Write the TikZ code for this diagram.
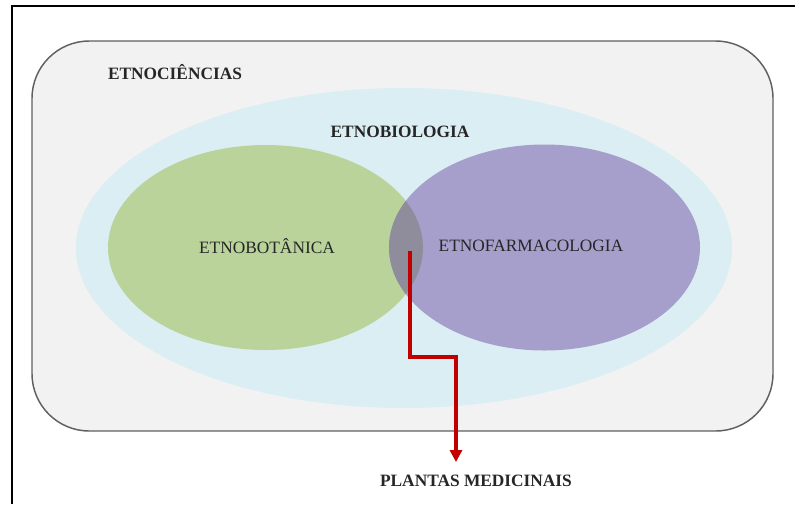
\documentclass[tikz,border=0pt]{standalone}
\usepackage{fontspec}
\setmainfont{Liberation Serif}
\usetikzlibrary{arrows.meta}
\definecolor{ciencgray}{HTML}{F2F2F2}
\definecolor{biolblue}{HTML}{DAEEF3}
\definecolor{botgreen}{HTML}{B9D39B}
\definecolor{farmpurple}{HTML}{A79FCB}
\definecolor{overgray}{HTML}{8F8D9B}
\definecolor{arrowred}{HTML}{C00000}
\tikzset{
    txt/.style={font=\fontsize{13}{15}\selectfont,text=black!85,inner sep=1pt},
    redpath/.style={arrowred,line width=2.3pt,-{Triangle[length=9pt,width=9pt]}}
}
\begin{document}
\begin{tikzpicture}[x=0.75pt,y=-0.75pt]
        \useasboundingbox (0,0) rectangle (795,504);
        \draw[line width=2pt] (12,504) -- (12,6) -- (795,6);
        \draw[fill=ciencgray,draw=gray!75!black,line width=1.1pt,rounded corners=43pt] (32,41) rectangle (773,431);
        \fill[biolblue] (404,248) ellipse [x radius=328,y radius=160];
        \fill[botgreen] (265.5,247.5) ellipse [x radius=157.5,y radius=102.5];
        \fill[farmpurple] (544.5,247.5) ellipse [x radius=155.5,y radius=103];
        \begin{scope}
            \clip (265.5,247.5) ellipse [x radius=157.5,y radius=102.5];
            \fill[overgray] (544.5,247.5) ellipse [x radius=155.5,y radius=103];
        \end{scope}
        \node[txt] (ciencias) at (175,72){\textbf{ETNOCIÊNCIAS}};
        \node[txt] (biologia) at (400,132){\textbf{ETNOBIOLOGIA}};
        \node[txt] (botanica) at (267,246){ETNOBOTÂNICA};
        \node[txt] (farmaco) at (531,246){ETNOFARMACOLOGIA};
        \node[txt] (plantas) at (476,481){\textbf{PLANTAS MEDICINAIS}};
        \coordinate (inter) at (410,251);
        \coordinate (knee) at (456,357);
        \coordinate (tip) at (456,462);
        \draw[redpath] (inter) |- (knee) -- (tip);
    \end{tikzpicture}
\end{document}
